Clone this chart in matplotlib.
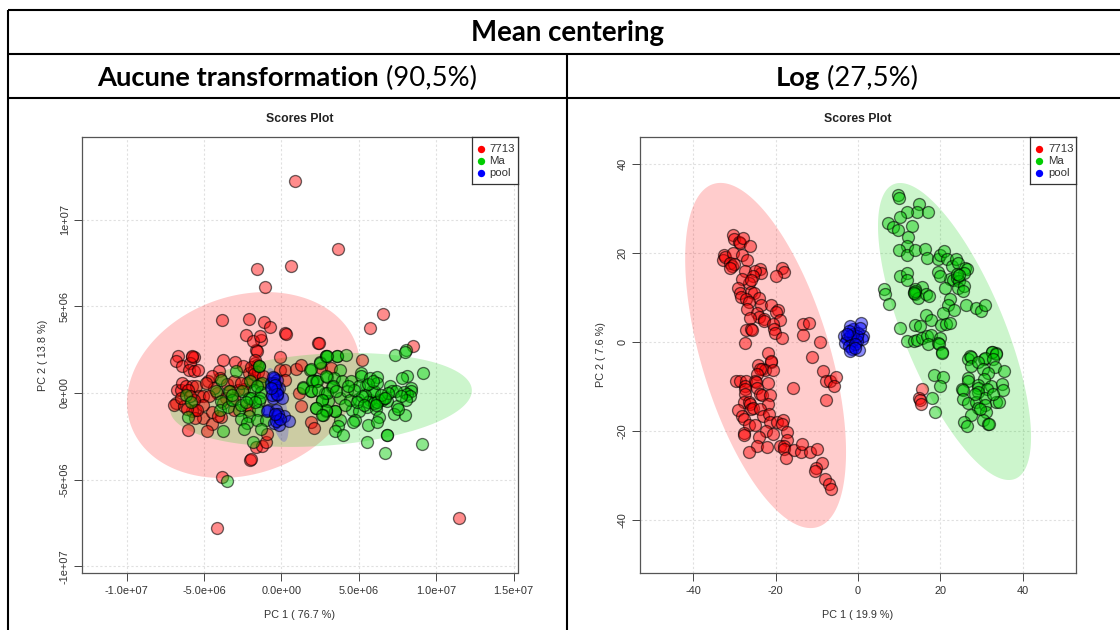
import numpy as np
import matplotlib
matplotlib.use("Agg")
import matplotlib.pyplot as plt

# ---------- data: left panel (units 1e6) ----------
L_7713_x = [0.87,3.64,-1.58,0.6,-1.07,-3.84,-2.1,-1.13,-0.74,0.23,0.32,-2.3,-1.32,5.72,6.56,-3.84,-4.17,11.47,-2.03,2.36,8.5,
 -6.66,-6.83,-5.8,-5.65,-6.4,-5.9,-5.97,-5.65,-5.4,-3.75,-3.0,-2.46,-1.64,-1.83,-1.36,-1.68,-0.09,2.44,-0.1,0.2,0.24,0.97,1.25,
 -4.74,-4.05,-3.97,-3.53,-3.06,-4.46,-6.72,-6.5,-6.4,-6.19,-5.75,-5.54,-5.32,-5.04,-6.83,-6.94,-5.6,-5.75,-5.04,-5.58,-4.46,-3.88,-4.5,-4.83,-6.03,
 -1.98,-1.66,-1.29,-1.01,-0.91,1.25,1.1,1.9,2.07,2.56,3.23,5.2,
 -2.09,-1.77,-1.59,-1.94,-1.88,-2.2,-2.41,-2.84,-3.06,-3.6,-4.14,-4.35,-4.68,-5.1,-5.65,-6.3,-6.5,-2.3,-2.09,-4.1,-3.06,-5.43,-6.03,-1.6,-5.8,
 -1.7,-1.5,-1.8,-2.6,-3.3,-3.8,-4.9,-5.9,-6.1,-1.4,-1.2]
L_7713_y = [12.2,8.3,7.15,7.3,6.1,4.2,4.27,4.1,3.8,3.46,3.42,3.35,3.06,3.75,4.56,-4.84,-7.8,-7.2,-3.86,2.88,2.73,
 2.15,1.83,2.1,2.1,1.54,1.73,1.3,1.27,1.35,1.92,1.77,1.58,2.46,3.0,3.3,1.73,2.06,2.88,1.3,1.3,0.77,1.38,1.63,
 0.71,1.25,0.87,0.54,0.67,0.96,0.15,0.19,0.58,0.38,0.42,0.38,-0.19,-0.19,-0.58,-0.67,-0.96,-1.06,-1.44,-1.44,-1.1,-1.38,-1.79,-2.21,-2.13,
 -3.81,-3.13,-3.08,-2.85,-2.35,-0.73,0.0,-1.67,-2.02,1.44,1.44,1.92,
 1.15,1.35,1.63,1.5,0.77,0.58,0.23,0.19,-0.29,-0.29,0.0,0.29,-0.19,-0.67,-0.38,-0.77,-0.29,-0.67,-0.96,-1.35,-0.96,-0.96,0.19,2.4,2.15,
 1.9,1.2,1.1,0.6,0.1,-0.6,0.6,-0.2,-0.9,0.5,1.0]
L_Ma_x = [7.33,8.04,9.14,8.08,7.8,7.0,8.34,8.38,7.9,8.13,8.3,8.02,7.44,7.26,7.99,7.53,6.83,6.47,6.3,5.75,5.86,5.95,5.43,5.17,5.17,5.75,6.16,6.14,7.16,7.37,
 5.5,6.08,4.53,5.0,5.58,6.3,6.16,4.78,4.63,6.83,6.83,5.5,6.67,9.1,3.77,3.64,3.43,3.99,3.45,3.45,2.89,2.67,2.24,3.02,2.63,2.84,1.9,1.38,2.03,2.26,1.87,2.52,3.77,2.93,3.37,3.9,4.5,3.24,3.77,4.25,4.4,4.93,2.9,2.9,3.6,3.6,4.18,
 -2.91,-1.44,-1.44,-2.03,-1.29,-3.92,-4.25,-3.38,-2.52,-1.77,-1.34,-6.19,-5.82,-6.03,-3.92,-3.97,-3.43,-3.17,-2.74,-2.63,-2.09,-1.94,-1.44,-1.38,-1.49,-2.09,-2.63,-2.2,-2.41,-3.75,-1.59,-1.01,-1.34,-1.83,
 1.4,1.9,2.5,2.97,2.0,2.28,1.9,2.33,2.87,2.97,2.59,2.87,2.24,2.65,-3.5,8.0,7.7,5.4,5.6,5.95,6.2,6.6,6.9,
 5.0,5.2,5.6,5.9,6.4,6.7,4.7,4.9,5.3,6.1,3.3,3.5,4.1,4.3,-1.6,-1.7,-2.3,-3.2]
L_Ma_y = [2.21,2.46,1.15,0.96,0.87,0.42,0.29,0.13,0.06,-0.04,-0.19,-0.42,-0.77,-1.21,-1.27,-0.92,-0.48,-0.38,-0.38,-0.42,0.1,0.1,0.48,1.15,1.0,0.87,0.9,0.58,0.1,0.1,
 -0.83,-0.92,-0.96,-1.06,-1.83,-1.4,-1.69,-1.54,-1.69,-2.4,-2.4,-2.85,-3.46,-2.92,-1.54,-1.92,-2.21,-2.4,-1.06,-1.06,-1.06,-1.25,-0.87,-0.48,-0.38,0.0,0.1,0.35,0.77,0.67,1.35,1.77,1.31,0.92,0.87,0.67,0.67,0.35,-0.29,0.1,-0.42,-0.35,2.15,2.15,2.15,2.15,2.17,
 1.27,1.58,1.58,0.67,0.58,0.77,0.1,0.1,0.1,0.19,0.04,-0.1,-0.54,-1.4,-0.48,-0.96,-0.81,-0.38,-0.96,-0.67,-0.29,-0.29,-0.48,-0.29,-0.96,-1.31,-1.5,-1.73,-2.06,-2.21,-1.58,-1.54,-2.08,-2.85,
 0.29,1.38,1.73,2.12,0.67,0.67,0.1,0.19,0.96,0.0,-0.42,-0.96,-0.87,-1.25,-5.1,2.36,-0.2,-0.1,-0.5,-0.6,-0.5,-0.3,0.0,
 0.4,-0.2,0.5,0.7,-0.1,-0.3,0.2,-0.5,-0.7,-0.7,0.4,0.1,-0.7,0.4,0.4,-0.5,-0.5,-0.1]
L_pool_x = [-0.47,-0.69,-0.47,-0.43,-0.26,-0.58,-0.86,-0.37,-0.26,0.17,-0.47,-0.15,0.5,-0.95,0.06,-0.15,-0.26,-0.5,-0.3,-0.2,-0.6,-0.35,-0.55,-0.4,-0.3,-0.1,-0.45,-0.65]
L_pool_y = [0.87,0.58,0.38,0.1,-0.1,-0.29,-0.96,-0.96,-1.35,-1.35,-1.73,-1.83,-1.63,-1.06,-0.29,0.29,0.77,0.6,0.2,-1.2,-0.1,-1.6,0.9,0.45,-0.05,-1.5,-1.2,0.3]

# ---------- data: right panel ----------
R_7713_x = [-30.4,-30,-28.95,-28.7,-27.9,-26.3,-32.6,-32.7,-32.2,-30.2,-28.1,-26.8,-31,-30.6,-30,-31,-27.5,-23.7,-23.5,-24.9,-25.5,-26.5,-28.1,-26,-18.5,-17.9,-19.9,
 -29.2,-28.7,-28.4,-26,-25.3,-24,-23.5,-27.2,-26.5,-26.8,-21.1,-19.3,-20,-24.5,-23.9,-26.1,-22.7,-22.9,-18.9,-20.6,-20.3,-20.1,-27.2,-26,-25.7,-18.5,-27.5,-13.4,-11.8,-13.4,-9.2,-11.1,-21.9,-21.1,-24.2,-23.3,
 -21,-22.5,-20.6,-23.7,-24.4,-29.5,-28.7,-27.1,-27.3,-27.5,-24.9,-24.7,-21.9,-24.5,-23.7,-23.3,-21.3,-27.3,-27.7,-26.5,-26.1,-21.9,-29.2,-26,-25.5,-23.7,-28.1,-27.7,-23.1,-21.5,-21.3,-19.7,-18.2,-18.5,-26.4,-24.9,-27.6,-27.7,-22.4,-20.5,-17.3,-17.1,-24.1,-24.4,-22,-26.4,-18.9,-17.9,-17.9,-17.4,-15.4,-13.8,-13.6,-11.6,-10,-8.8,-10.2,-10.4,-7.9,-7,-6.6,-15.8,-8.4,-7.8,-6.9,-5.3,-5.8,-7.8,
 15.6,14.8,15,15.2]
R_7713_y = [23.96,23,22.4,22.2,23.4,21.5,19.6,18.4,19.1,19.85,19.5,18.3,17.8,17,17.4,16.6,15.9,16.3,15.5,15.9,14.8,13.3,14.2,14,16.5,15.7,14.9,
 12,10.9,10.15,11.2,10.9,9.8,8.4,9.55,9,7.5,8.3,7.2,6.7,6.4,5.7,5.3,5.1,4.7,4.9,4,2.8,2.1,2.7,2.8,2.7,1,-0.15,4.1,4.3,1.6,0.07,-3.3,-2.4,-4.4,-5.2,-6.1,
 -4.2,-6.2,-6.2,-6,-7.2,-8.8,-8.8,-8.65,-9.8,-10.5,-8.65,-8.9,-9.2,-10.4,-11.6,-12,-12,-11.6,-13.5,-13.5,-13.9,-14,-15.2,-15,-14.9,-15,-16.5,-17.2,-16.5,-16.1,-18,-18,-17.6,-18.4,-18.7,-18.6,-20.4,-20.8,-20,-20.6,-20.1,-21.9,-21.2,-23.4,-23.6,-24.7,-23.4,-23.4,-24,-26,-24.3,-24.6,-22.8,-24.6,-24,-27.2,-28.2,-29,-30.8,-31.9,-33,-10.3,-6.4,-8.7,-8.8,-7.8,-9.8,-13,
 -10.6,-12.5,-13,-13.8]
R_Ma_x = [9.6,10,14.7,14.4,16.9,11.9,10.1,7.3,8.5,9.7,13.1,12.1,11.9,10,11.8,13.7,16.3,16.7,19.5,19.9,20.9,21.5,22.7,23.8,24.2,26,26.4,25.8,22.3,23.1,24.1,24.4,19.4,19.8,10.2,12,11.9,21.1,24.2,25.6,25.4,15.5,13.7,13.5,13.9,14.6,16.5,17.3,6.2,6.6,7.4,22.3,21.8,23.3,26.2,28.6,29.8,30.9,20.7,16.5,17.7,13.9,15.1,20.2,21.3,22.3,10.1,11.9,13.5,14.3,15.5,16.7,17.7,19.8,16.9,19.5,19.7,20.4,27.2,32.4,33.4,30.6,
 17.9,18.6,18.5,20.6,20,20.4,32.5,33.4,26.7,27.5,27.5,30.7,32.7,29.1,33.1,30.3,31.5,35.3,26.7,26.7,30.5,29.1,29,32.3,31.3,34.8,35.2,25.2,25.5,29.1,25.5,26.7,28.7,30.7,33.5,34.3,29.1,30.8,27.3,31.1,30.3,31.5,31.8,25.6,26.5,28.3,32.7,29.5,13.8,13.6,24,24.4]
R_Ma_y = [32.9,32.2,31,29.2,29.2,29.1,28.1,26.6,25.8,25.2,26,23.5,21.5,20.6,19.6,20.6,20.9,18.9,18.7,19.6,20.4,18.5,17,18.5,17.6,16.6,16.3,15.5,14.2,13.8,14.4,13.7,15.7,14.8,14.9,15.5,14,12.1,12.2,12.5,11.4,12.4,11.8,11.2,10.7,9.8,10.7,10.3,11.8,10.7,8.6,9.7,8.2,7.2,8.4,7.7,6.9,8.2,6.4,6,4.9,3.7,3.6,3.7,4,4.3,3.1,0.2,0.2,0.45,0.8,1.3,1.5,1,-0.5,-0.15,-0.5,-2.2,-3.1,-2.2,-2.4,-3.9,
 -12.5,-15.6,-7.5,-7.8,-9.85,-2.4,-2.2,-2.6,-3.9,-3.4,-5.4,-3.7,-3.9,-4.6,-5.6,-6,-6.9,-6.4,-8,-8.7,-8.4,-9.7,-10.4,-9.9,-10.6,-9.5,-10.8,-10.6,-10.8,-11.3,-12.7,-13.6,-13.4,-12.5,-13.4,-13.4,-14.7,-14.2,-16.4,-15.7,-17.5,-18.3,-18.4,-17.9,-18.8,-11.7,-11.7,-15.1,11.5,11.0,15.2,15.0]
R_pool_x = [-1.1,0.7,-1.9,-3.5,0.1,1.1,0.9,-2.7,-1.5,-0.3,-3.1,-2.3,-1.5,0.2,-1.1,-1.9,-0.3,0.5,-2.3,-0.7,-2.7,-1.9,-0.7]
R_pool_y = [2.8,4.2,3.6,1.3,2.1,1.3,0.6,0.6,0.2,0.2,-0.3,-0.9,-1.5,-1.9,1.7,1.3,1.3,3.2,2.5,-0.5,1.7,-2,-1.3]

# ellipses: centre x, centre y, half width, half height, correlation
L_ell = {"7713": (-2.45,0.46,7.53,5.36,0.19), "Ma": (2.55,-0.4,9.75,2.71,0.2), "pool": (-0.29,-0.69,0.75,2.13,-0.6)}
R_ell = {"7713": (-22.4,-3.03,19.5,38.7,-0.56), "Ma": (23.4,2.35,18.55,33.3,-0.71), "pool": (-1.1,0.67,2.6,3.6,0.0)}

groups = ["7713","Ma","pool"]
colors = {"7713":"#FF0000","Ma":"#00CD00","pool":"#0000FF"}

L_xticks = [-10,-5,0,5,10,15]
L_xlabels = ["-1.0e+07","-5.0e+06","0.0e+00","5.0e+06","1.0e+07","1.5e+07"]
L_yticks = [-10,-5,0,5,10]
L_ylabels = ["-1e+07","-5e+06","0e+00","5e+06","1e+07"]
R_ticks = [-40,-20,0,20,40]
R_labels = ["-40","-20","0","20","40"]

W,H = 1120,630
fig = plt.figure(figsize=(W/100,H/100),dpi=100,facecolor="white")
AF = ["Liberation Sans","DejaVu Sans"]
HF = ["Lato","DejaVu Sans"]

# table frame
bg = fig.add_axes([0,0,1,1],zorder=0)
bg.set_xlim(0,W); bg.set_ylim(H,0); bg.axis("off")
for x0,y0,x1,y1 in [(8,10,1120,10),(8,54,1120,54),(8,98,1120,98),(8,10,8,630),(567,54,567,630)]:
    bg.plot([x0,x1],[y0,y1],color="black",lw=1.5,solid_capstyle="butt")
bg.text(567.5,33.5,"Mean centering",fontfamily=HF,fontweight="bold",fontsize=19.9,ha="center",va="center")
def head(x,b,r):
    t = bg.text(x,78.5,b,fontfamily=HF,fontweight="bold",fontsize=19.7,ha="left",va="center")
    bg.annotate(" "+r,xy=(1,0.5),xycoords=t,fontfamily=HF,fontsize=19.7,ha="left",va="center")
head(97,"Aucune transformation","(90,5%)")
head(776,"Log","(27,5%)")

def panel(box,xlim,ylim,xt,xtl,yt,ytl,data,ell,xlab,ylab):
    l,r,t,b = box
    ax = fig.add_axes([l/W,1-b/H,(r-l)/W,(b-t)/H],zorder=1)
    ax.set_xlim(*xlim); ax.set_ylim(*ylim)
    ax.set_xticks(xt); ax.set_xticklabels(xtl)
    ax.set_yticks(yt); ax.set_yticklabels(ytl,rotation=90,va="center")
    ax.tick_params(length=5.5,width=0.7,color="#444444",labelsize=7.9,labelcolor="#333333")
    ax.tick_params(axis="x",pad=3.8)
    ax.tick_params(axis="y",pad=3.2)
    for lbl in ax.get_xticklabels()+ax.get_yticklabels():
        lbl.set_fontfamily(AF)
    ax.grid(True,color="#E0E0E0",ls=(0,(2,2)),lw=0.8)
    ax.set_axisbelow(True)
    for s in ax.spines.values():
        s.set_color("#555555"); s.set_linewidth(0.9)
    tt = np.linspace(0,2*np.pi,300)
    for g in groups:
        cx,cy,ax_,ay_,rho = ell[g]
        ax.fill(cx+ax_*np.cos(tt), cy+ay_*(rho*np.cos(tt)+np.sqrt(1-rho**2)*np.sin(tt)),
                color=colors[g],alpha=0.2,lw=0,zorder=1.5)
    for i,g in enumerate(groups):
        xs,ys = data[g]
        ax.scatter(xs,ys,s=74,facecolor=matplotlib.colors.to_rgba(colors[g],0.45),
                   edgecolor=(0,0,0,0.58),linewidth=0.95,zorder=3+i)
    bg.text((l+r)/2-0.5,119.5,"Scores Plot",fontfamily=AF,fontweight="bold",fontsize=8.8,ha="center",va="center",color="#222222")
    bg.text((l+r)/2,615,xlab,fontfamily=AF,fontsize=7.8,ha="center",va="center",color="#333333")
    bg.text(l-40+1,355,ylab,fontfamily=AF,fontsize=7.8,ha="center",va="center",rotation=90,color="#333333")
    # legend
    lw_,lh = 46,47
    leg = fig.add_axes([(r-lw_)/W,1-(t+lh)/H,lw_/W,lh/H],zorder=2)
    leg.set_xlim(0,lw_); leg.set_ylim(lh,0); leg.set_xticks([]); leg.set_yticks([])
    for s in leg.spines.values():
        s.set_color("#333333"); s.set_linewidth(0.9)
    for g,yy in zip(groups,[12,24,36]):
        leg.scatter([9],[yy],s=28,color=colors[g],lw=0)
        leg.text(18,yy,g,fontfamily=AF,fontsize=8.2,va="center",ha="left",color="#333333")
    return ax

panel((82,517.5,137,573),(-12.89,15.25),(-10.38,14.76),L_xticks,L_xlabels,L_yticks,L_ylabels,
      {"7713":(L_7713_x,L_7713_y),"Ma":(L_Ma_x,L_Ma_y),"pool":(L_pool_x,L_pool_y)},L_ell,
      "PC 1 ( 76.7 %)","PC 2 ( 13.8 %)")
panel((640,1076,137,573),(-52.85,52.85),(-51.8,45.96),R_ticks,R_labels,R_ticks,R_labels,
      {"7713":(R_7713_x,R_7713_y),"Ma":(R_Ma_x,R_Ma_y),"pool":(R_pool_x,R_pool_y)},R_ell,
      "PC 1 ( 19.9 %)","PC 2 ( 7.6 %)")

fig.savefig("out.png",dpi=100,facecolor="white")
